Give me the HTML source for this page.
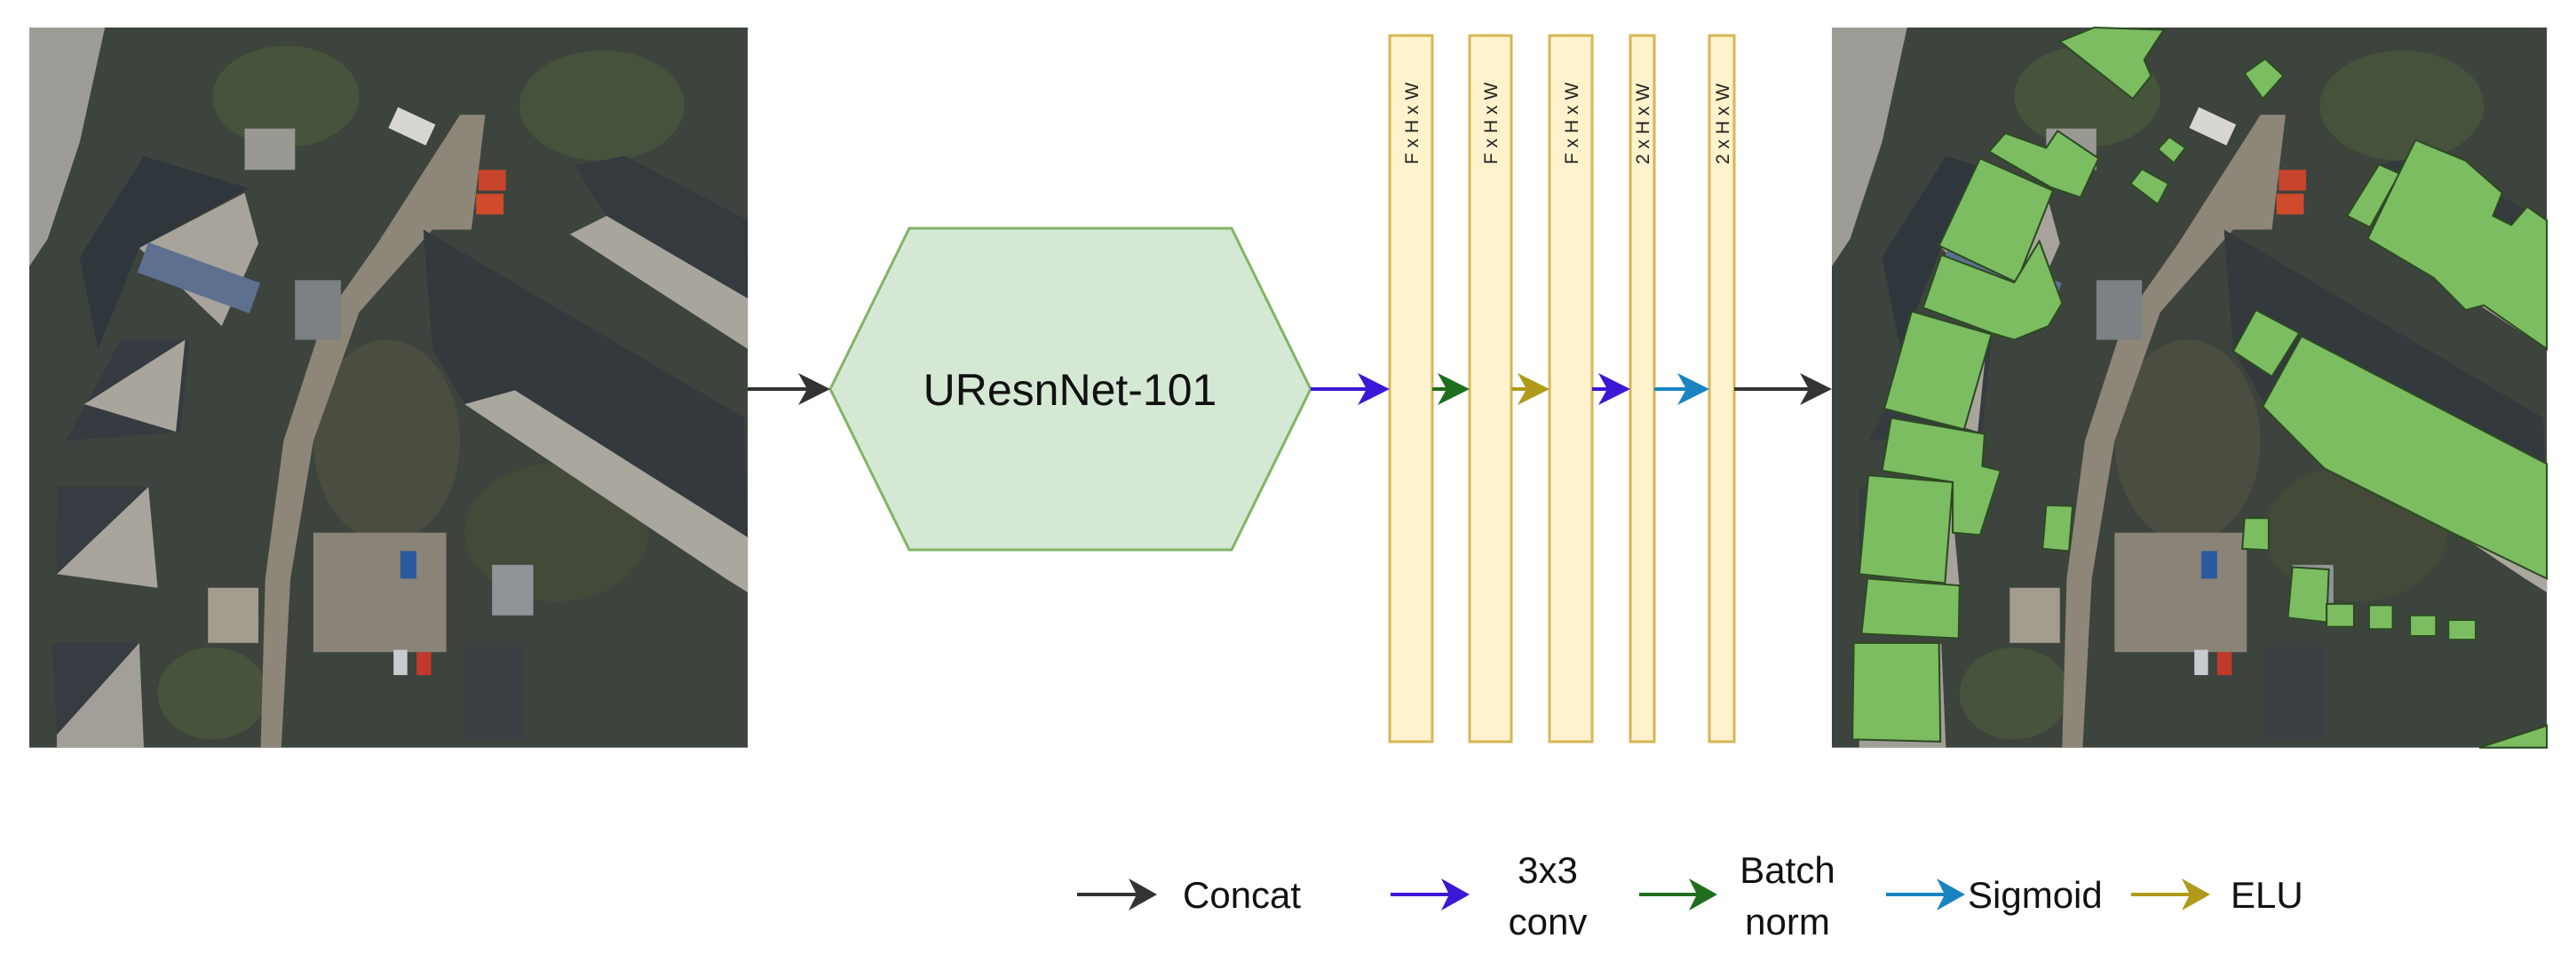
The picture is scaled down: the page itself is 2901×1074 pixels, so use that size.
<!DOCTYPE html>
<html><head><meta charset="utf-8"><style>
html,body{margin:0;padding:0;background:#fff;}
svg{display:block}
text{font-family:"Liberation Sans",Arial,sans-serif;}
</style></head><body>
<svg width="2901" height="1074" viewBox="0 0 2901 1074" xmlns="http://www.w3.org/2000/svg">
<defs>
<g id="aerial">
  <rect x="0" y="0" width="1568" height="1568" fill="#3d443d"/>
  <ellipse cx="560" cy="150" rx="160" ry="110" fill="#47543c"/>
  <ellipse cx="1250" cy="170" rx="180" ry="120" fill="#46523c"/>
  <ellipse cx="780" cy="900" rx="160" ry="220" fill="#4a4d40"/>
  <ellipse cx="1150" cy="1100" rx="200" ry="150" fill="#434a3a"/>
  <ellipse cx="400" cy="1450" rx="120" ry="100" fill="#47533c"/>
  <polygon points="0,0 165,0 110,250 40,460 0,520" fill="#9e9c96"/>
  <polygon points="940,190 995,190 965,440 880,440 720,620 620,900 570,1200 550,1568 505,1568 515,1200 555,900 640,640 760,470" fill="#8e8678"/>
  <rect x="620" y="1100" width="290" height="260" fill="#8a8378"/>
  <polygon points="860,440 1560,850 1568,1110 1060,790 950,820 880,700" fill="#33393d"/>
  <polygon points="950,820 1060,790 1568,1110 1568,1230 1520,1200" fill="#aaa79e"/>
  <polygon points="1190,300 1300,280 1568,420 1568,590 1260,410" fill="#343a3e"/>
  <polygon points="1180,450 1260,410 1568,590 1568,700" fill="#a8a59c"/>
  <polygon points="250,280 480,350 240,480 150,700 110,500" fill="#30373c"/>
  <polygon points="240,480 470,360 500,470 420,650" fill="#a8a49b"/>
  <polygon points="80,900 200,680 350,680 330,880" fill="#353b40"/>
  <polygon points="120,820 340,680 320,880" fill="#a9a59c"/>
  <polygon points="60,1190 260,1000 280,1220" fill="#a8a49b"/>
  <polygon points="60,1000 260,1000 60,1190" fill="#363c41"/>
  <polygon points="60,1540 240,1340 250,1568 60,1568" fill="#a29f98"/>
  <polygon points="50,1340 240,1340 60,1540" fill="#363c42"/>
  <rect x="470" y="220" width="110" height="90" fill="#9a9892"/>
  <rect x="580" y="550" width="100" height="130" fill="#7d8184"/>
  <rect x="390" y="1220" width="110" height="120" fill="#a49c8e"/>
  <rect x="950" y="1350" width="130" height="200" fill="#3a4044"/>
  <rect x="1010" y="1170" width="90" height="110" fill="#8f9498"/>
  <rect x="240" y="510" width="260" height="70" fill="#5d7090" transform="rotate(20 370 545)"/>
  <rect x="980" y="310" width="60" height="45" fill="#c8432c"/>
  <rect x="975" y="362" width="60" height="45" fill="#d04a2c"/>
  <rect x="845" y="1360" width="32" height="50" fill="#c0392b"/>
  <rect x="795" y="1355" width="30" height="55" fill="#c8ccd0"/>
  <rect x="810" y="1140" width="35" height="60" fill="#2b5aa0"/>
  <rect x="790" y="190" width="90" height="50" fill="#d8d6d0" transform="rotate(25 835 215)"/>
</g>
</defs>

<!-- left image -->
<g transform="translate(33,31) scale(0.516,0.517)">
  <use href="#aerial"/>
</g>

<!-- right image -->
<g transform="translate(2063,31) scale(0.5135,0.517)">
  <use href="#aerial"/>
  <g fill="#7cbd62" stroke="#2d4a22" stroke-width="4">
    <polygon points="500,30 575,0 728,5 685,70 700,105 660,155"/>
    <polygon points="905,100 950,68 990,105 945,155"/>
    <polygon points="715,265 740,238 775,262 750,295"/>
    <polygon points="655,340 680,308 738,340 715,385"/>
    <polygon points="345,270 380,230 470,262 495,225 585,285 545,370 480,348"/>
    <polygon points="235,475 325,285 485,355 405,555"/>
    <polygon points="200,610 240,495 400,555 455,465 505,600 475,650 400,680 350,665"/>
    <polygon points="115,830 175,618 350,668 290,875"/>
    <polygon points="110,965 130,850 335,885 330,955 370,965 325,1105 265,1100 265,990"/>
    <polygon points="60,1190 80,975 265,990 248,1210"/>
    <polygon points="65,1320 78,1200 280,1215 278,1330"/>
    <polygon points="45,1550 48,1340 235,1340 238,1555"/>
    <polygon points="462,1135 470,1040 528,1042 520,1140"/>
    <polygon points="1130,410 1200,298 1245,318 1180,435"/>
    <polygon points="1175,460 1250,305 1280,245 1390,290 1470,360 1450,410 1490,430 1525,390 1568,420 1568,700 1430,605 1390,615 1320,545"/>
    <polygon points="880,705 930,615 1025,665 965,760"/>
    <polygon points="945,825 1030,672 1568,950 1568,1200 1360,1100 1080,960"/>
    <polygon points="1000,1285 1010,1175 1090,1180 1085,1295"/>
    <polygon points="900,1135 905,1068 958,1068 958,1138"/>
    <rect x="1085" y="1255" width="60" height="50"/>
    <rect x="1178" y="1258" width="52" height="52"/>
    <rect x="1268" y="1280" width="57" height="45"/>
    <rect x="1352" y="1290" width="60" height="43"/>
    <polygon points="1420,1568 1568,1520 1568,1568"/>
  </g>
</g>

<!-- hexagon -->
<polygon points="935,438 1024,257 1387,257 1476,438 1387,619 1024,619" fill="#d5e8d4" stroke="#82b366" stroke-width="3"/>
<text x="1205" y="456" font-size="50" text-anchor="middle" fill="#111">UResnNet-101</text>

<!-- bars -->
<g fill="#fff2cc" stroke="#d6b656" stroke-width="3">
  <rect x="1565" y="40" width="48" height="795"/>
  <rect x="1655" y="40" width="47" height="795"/>
  <rect x="1745" y="40" width="48" height="795"/>
  <rect x="1836" y="40" width="27" height="795"/>
  <rect x="1925" y="40" width="28" height="795"/>
</g>
<g font-size="21" fill="#222">
  <text transform="translate(1597,185) rotate(-90)">F x H x W</text>
  <text transform="translate(1686,185) rotate(-90)">F x H x W</text>
  <text transform="translate(1777,185) rotate(-90)">F x H x W</text>
  <text transform="translate(1857,185) rotate(-90)">2 x H x W</text>
  <text transform="translate(1947,185) rotate(-90)">2 x H x W</text>
</g>

<!-- connectors -->
<g stroke-width="4" fill="none">
  <line x1="842" y1="438" x2="915" y2="438" stroke="#333"/>
  <line x1="1476" y1="438" x2="1545" y2="438" stroke="#3d17d6"/>
  <line x1="1613" y1="438" x2="1635" y2="438" stroke="#1e6e1e"/>
  <line x1="1702" y1="438" x2="1725" y2="438" stroke="#b09a1a"/>
  <line x1="1793" y1="438" x2="1816" y2="438" stroke="#3d17d6"/>
  <line x1="1863" y1="438" x2="1905" y2="438" stroke="#1a84c0"/>
  <line x1="1953" y1="438" x2="2043" y2="438" stroke="#333"/>
</g>
<g>
  <path d="M935,438 L899,420 L909,438 L899,456 Z" fill="#333"/>
  <path d="M1565,438 L1529,420 L1539,438 L1529,456 Z" fill="#3d17d6"/>
  <path d="M1655,438 L1619,420 L1629,438 L1619,456 Z" fill="#1e6e1e"/>
  <path d="M1745,438 L1709,420 L1719,438 L1709,456 Z" fill="#b09a1a"/>
  <path d="M1836,438 L1800,420 L1810,438 L1800,456 Z" fill="#3d17d6"/>
  <path d="M1925,438 L1889,420 L1899,438 L1889,456 Z" fill="#1a84c0"/>
  <path d="M2063,438 L2027,420 L2037,438 L2027,456 Z" fill="#333"/>
</g>

<!-- legend -->
<g stroke-width="4">
  <line x1="1213" y1="1007" x2="1285" y2="1007" stroke="#333"/>
  <line x1="1566" y1="1007" x2="1637" y2="1007" stroke="#3d17d6"/>
  <line x1="1846" y1="1007" x2="1916" y2="1007" stroke="#1e6e1e"/>
  <line x1="2124" y1="1007" x2="2195" y2="1007" stroke="#1a84c0"/>
  <line x1="2400" y1="1007" x2="2471" y2="1007" stroke="#b09a1a"/>
</g>
<path d="M1303,1007 L1271,989 L1280,1007 L1271,1025 Z" fill="#333"/>
<path d="M1655,1007 L1623,989 L1632,1007 L1623,1025 Z" fill="#3d17d6"/>
<path d="M1934,1007 L1902,989 L1911,1007 L1902,1025 Z" fill="#1e6e1e"/>
<path d="M2213,1007 L2181,989 L2190,1007 L2181,1025 Z" fill="#1a84c0"/>
<path d="M2489,1007 L2457,989 L2466,1007 L2457,1025 Z" fill="#b09a1a"/>
<g font-size="42" fill="#111">
  <text x="1332" y="1022">Concat</text>
  <text x="1743" y="994" text-anchor="middle">3x3</text>
  <text x="1743" y="1052" text-anchor="middle">conv</text>
  <text x="2013" y="994" text-anchor="middle">Batch</text>
  <text x="2013" y="1052" text-anchor="middle">norm</text>
  <text x="2216" y="1022">Sigmoid</text>
  <text x="2512" y="1022">ELU</text>
</g>
</svg>
</body></html>
